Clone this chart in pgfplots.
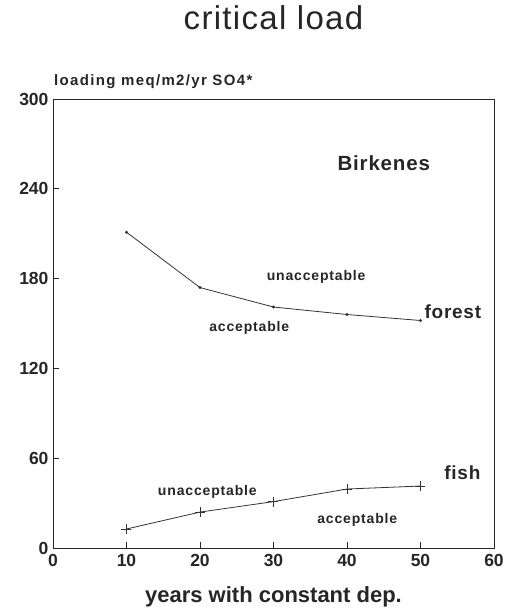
\documentclass[border=0pt]{standalone}
\usepackage{fontspec}
\setmainfont{Liberation Sans}
\newfontfamily\lsp{Liberation Sans}[LetterSpace=6]
\newfontfamily\lspy{Liberation Sans}[LetterSpace=9]
\newfontfamily\lspm{Liberation Sans}[LetterSpace=4]
\usepackage{pgfplots}
\pgfplotsset{compat=1.18}
\pgfplotstableread{
x y
10 211
20 174
30 161
40 156
50 152
}\forest
\pgfplotstableread{
x y
10 12.7
20 24
30 31
40 39.4
50 41.4
}\fish
\begin{document}
\begin{tikzpicture}
\path[use as bounding box] (-53pt,-61pt) rectangle (463pt,548pt);
\begin{axis}[
  at={(0,0)}, anchor=south west,
  scale only axis, width=441pt, height=449pt,
  xmin=0, xmax=60, ymin=0, ymax=300,
  xtick={0,10,...,60}, ytick={0,60,...,300},
  tick align=inside, tick pos=left,
  major tick length=6pt,
  axis line style={line width=0.8pt, black!85},
  every tick/.style={black!85, line width=0.8pt},
  /pgf/number format/assume math mode=true,
  ticklabel style={font=\bfseries\fontsize{17.5}{17.5}\selectfont, black!85},
  xticklabel style={yshift=-3pt},
  yticklabel style={xshift=-1pt},
  xlabel={years with constant dep.},
  xlabel style={at={(axis description cs:0.5,-0.109)}, anchor=center, font=\bfseries\fontsize{22}{22}\selectfont, black!85},
  title={critical load},
  title style={at={(axis description cs:0.5,1)}, anchor=center, yshift=75pt, font=\fontsize{33}{33}\selectfont\lspm, black!85},
  clip=false,
]
\addplot[black!80, line width=0.8pt, mark=*, mark size=1.1pt] table[x=x,y=y]{\forest};
\addplot[black!80, line width=0.8pt, mark=+, mark size=5pt] table[x=x,y=y]{\fish};
\node[anchor=west, font=\bfseries\fontsize{15}{15}\selectfont\lspy, black!85, inner sep=0pt] at (axis description cs:0,1) [xshift=1pt, yshift=17pt] {loading meq/m2/yr SO4*};
\node[font=\bfseries\fontsize{20.5}{20.5}\selectfont\lspm, black!85] at (axis cs:45,257) {Birkenes};
\node[font=\bfseries\fontsize{14}{14}\selectfont\lsp, black!85] at (axis cs:35.8,181) {unacceptable};
\node[font=\bfseries\fontsize{14}{14}\selectfont\lsp, black!85] at (axis cs:26.7,147) {acceptable};
\node[font=\bfseries\fontsize{19}{19}\selectfont\lspm, black!85] at (axis cs:54.4,158) {forest};
\node[font=\bfseries\fontsize{19}{19}\selectfont\lspm, black!85] at (axis cs:55.7,50) {fish};
\node[font=\bfseries\fontsize{14}{14}\selectfont\lsp, black!85] at (axis cs:21.0,37.4) {unacceptable};
\node[font=\bfseries\fontsize{14}{14}\selectfont\lsp, black!85] at (axis cs:41.4,18.7) {acceptable};
\end{axis}
\end{tikzpicture}
\end{document}
